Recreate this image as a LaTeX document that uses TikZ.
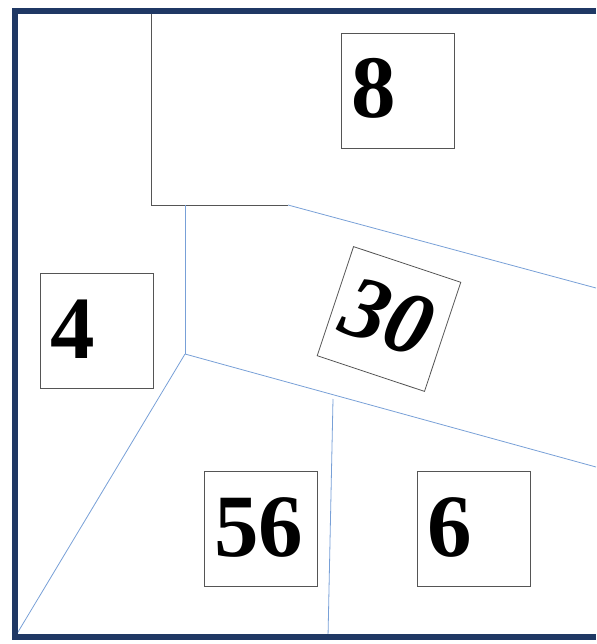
\documentclass[tikz,border=0pt]{standalone}
\usepackage{fontspec}
\setmainfont{Liberation Serif}
\definecolor{frameblue}{RGB}{31,56,100}
\definecolor{lineblue}{RGB}{120,160,215}
\definecolor{boxgray}{RGB}{85,85,85}
\tikzset{
  digitbox/.style={draw=boxgray, line width=0.8pt, minimum width=113pt, minimum height=115pt,
    inner xsep=10pt, text width=93pt, align=left, text height=60pt, text depth=5pt,
    font=\fontsize{89}{89}\selectfont\bfseries},
  plot/.style={lineblue, line width=0.8pt},
}
\begin{document}
\begin{tikzpicture}[x=1pt,y=-1pt]
        \useasboundingbox (0,0) rectangle (596,644);
        % cut lines
        \coordinate (top) at (151,11);
        \coordinate (knee) at (151,205);
        \coordinate (ledge) at (288,205);
        \coordinate (stem) at (185,205);
        \coordinate (hub) at (185,354);
        \coordinate (split) at (333,399);
        \coordinate (corner) at (15,637);
        \draw[boxgray, line width=0.8pt] (top) -- (knee) -- (ledge);
        \draw[plot] (ledge) -- (596,288);
        \draw[plot] (stem) -- (hub);
        \draw[plot] (hub) -- (596,467);
        \draw[plot] (hub) -- (corner);
        \draw[plot] (split) -- (328,637);
        % frame
        \draw[frameblue, line width=5.5pt, line join=miter] (596,11) -- (15,11) -- (corner) -- (596,637);
        % numbers
        \node[digitbox] (eight) at (397.5,90.5) {8};
        \node[digitbox] (four) at (96.5,331) {4};
        \node[digitbox, rotate=-18.4, font=\fontsize{89}{89}\selectfont\bfseries\itshape] (thirty) at (389,319) {30};
        \node[digitbox] (fiftysix) at (260.5,528.5) {56};
        \node[digitbox] (six) at (473.5,528.5) {6};
\end{tikzpicture}
\end{document}
